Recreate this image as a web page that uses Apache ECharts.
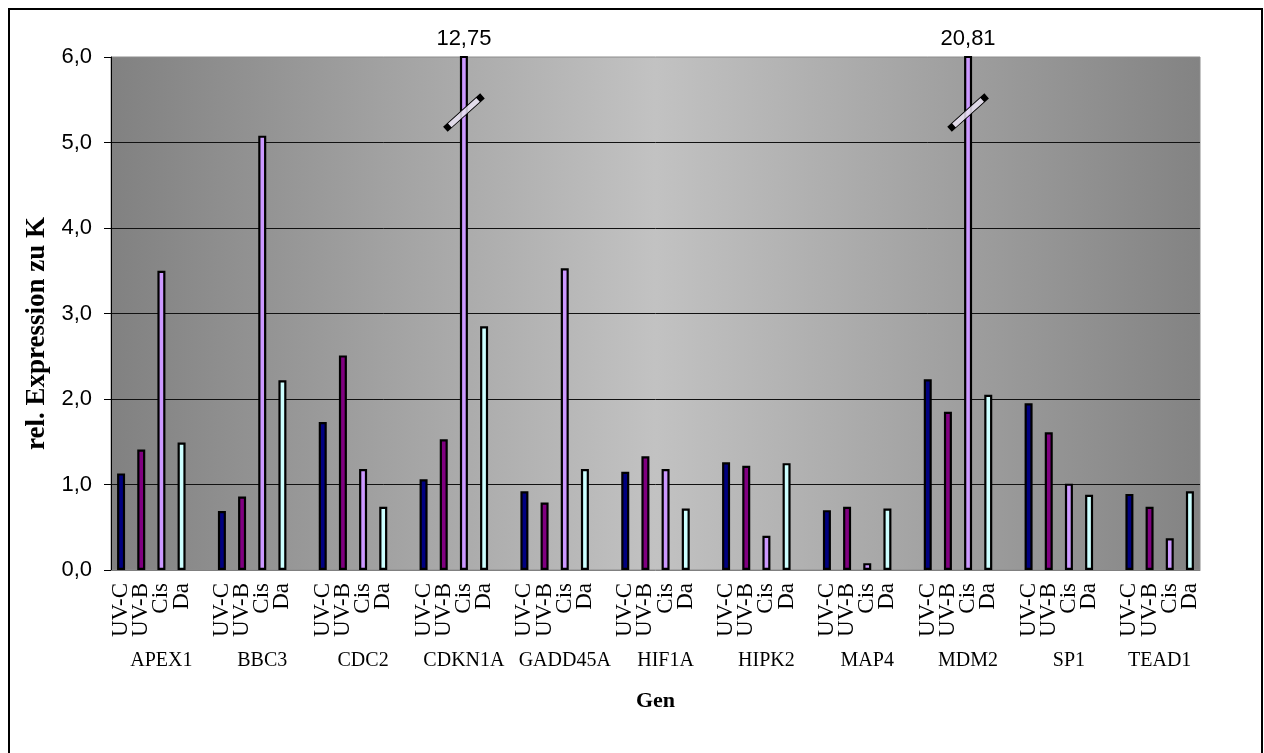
<!DOCTYPE html>
<html>
<head>
<meta charset="utf-8">
<script src="https://cdn.jsdelivr.net/npm/echarts@6/dist/echarts.min.js"></script>
<style>
  html, body { margin: 0; padding: 0; background: #ffffff; }
  #chart { width: 1264px; height: 753px; }
</style>
</head>
<body>
<div id="chart"></div>
<script>
// Relative expression (vs. control K) per gene and treatment
const genes = ['APEX1', 'BBC3', 'CDC2', 'CDKN1A', 'GADD45A', 'HIF1A', 'HIPK2', 'MAP4', 'MDM2', 'SP1', 'TEAD1'];
const treatments = ['UV-C', 'UV-B', 'Cis', 'Da'];
const uvC = [1.13, 0.69, 1.73, 1.06, 0.92, 1.15, 1.26, 0.70, 2.23, 1.95, 0.89];
const uvB = [1.41, 0.86, 2.51, 1.53, 0.79, 1.33, 1.22, 0.74, 1.85, 1.61, 0.74];
const cis = [3.50, 5.08, 1.18, 12.75, 3.53, 1.18, 0.40, 0.08, 20.81, 1.01, 0.37];
const da = [1.49, 2.22, 0.74, 2.85, 1.18, 0.72, 1.25, 0.72, 2.05, 0.88, 0.92];
const yMin = 0;
const yMax = 6;
const yStep = 1;
const breakValue = 5.35;   // where the axis-break mark sits on truncated bars

const valuesByTreatment = [uvC, uvB, cis, da];
const barColors = ['#000080', '#800080', '#cc99ff', '#ccffff'];

const fmtNum = (v, d) => v.toFixed(d).replace('.', ',');

// Slots along the category axis: four treatments per gene, one empty slot between genes
const slots = [];
const groupCenters = [];
genes.forEach((g, gi) => {
  const start = slots.length;
  treatments.forEach(t => slots.push({ gene: gi, t: t, key: g + '|' + t }));
  const hasGap = gi < genes.length - 1;
  if (hasGap) slots.push({ gene: -1, t: '', key: 'gap' + gi });
  const span = treatments.length + (hasGap ? 1 : 0);
  groupCenters.push(start + (span - 1) / 2);
});
const categories = slots.map(s => s.key);

// Secondary axis in half-slot steps, used to centre gene names under their group
const geneAxisData = [];
for (let i = 0; i <= slots.length * 2; i++) geneAxisData.push('p' + i);
const geneLabelAt = {};
groupCenters.forEach((c, gi) => { geneLabelAt['p' + Math.round(2 * c + 1)] = genes[gi]; });

const series = treatments.map((t, ti) => {
  const vals = valuesByTreatment[ti];
  const data = slots.map(s => (s.gene >= 0 && s.t === t) ? vals[s.gene] : '-');
  const s = {
    name: t,
    type: 'bar',
    xAxisIndex: 0,
    data: data,
    barWidth: 8,
    barGap: '-100%',
    clip: true,
    itemStyle: { color: barColors[ti], borderColor: '#000000', borderWidth: 2.2 },
    label: {
      show: true,
      position: 'top',
      distance: 6,
      color: '#000000',
      fontFamily: 'Liberation Sans, Arial, sans-serif',
      fontSize: 22,
      formatter: p => (typeof p.value === 'number' && p.value > yMax) ? fmtNum(p.value, 2) : ''
    },
    emphasis: { disabled: true },
    animation: false
  };
  const breaks = [];
  data.forEach((v, i) => {
    if (typeof v === 'number' && v > yMax) breaks.push({ coord: [i, breakValue] });
  });
  if (breaks.length) {
    s.markPoint = {
      symbol: 'rect',
      symbolSize: [44, 6],
      symbolRotate: 42,
      itemStyle: { color: 'rgba(235,228,245,0.85)', borderColor: '#000000', borderWidth: 2.2 },
      label: { show: false },
      data: breaks,
      animation: false
    };
  }
  return s;
});

const chart = echarts.init(document.getElementById('chart'), null, { renderer: 'canvas' });
chart.setOption({
  backgroundColor: '#ffffff',
  animation: false,
  graphic: [{
    type: 'rect',
    shape: { x: 9, y: 9, width: 1253, height: 800 },
    style: { fill: 'none', stroke: '#000000', lineWidth: 2 },
    silent: true,
    z: 100
  }],
  grid: {
    left: 111, top: 57, right: 64, bottom: 183,
    show: true,
    borderColor: '#8c8c8c',
    borderWidth: 1,
    backgroundColor: new echarts.graphic.LinearGradient(0, 0, 1, 0, [
      { offset: 0, color: '#818181' },
      { offset: 0.5, color: '#c2c2c2' },
      { offset: 1, color: '#838383' }
    ])
  },
  xAxis: [{
    type: 'category',
    data: categories,
    position: 'bottom',
    axisLine: { show: true, lineStyle: { color: '#808080', width: 1 } },
    axisTick: { show: false },
    splitLine: { show: false },
    axisLabel: {
      interval: 0,
      rotate: 90,
      margin: 13,
      color: '#000000',
      fontFamily: 'Liberation Serif, Times New Roman, serif',
      fontSize: 23,
      formatter: v => v.indexOf('|') >= 0 ? v.split('|')[1] : ''
    }
  }, {
    type: 'category',
    data: geneAxisData,
    boundaryGap: false,
    position: 'bottom',
    axisLine: { show: false },
    axisTick: { show: false },
    splitLine: { show: false },
    axisLabel: {
      interval: 0,
      margin: 81,
      color: '#000000',
      fontFamily: 'Liberation Serif, Times New Roman, serif',
      fontSize: 20,
      formatter: v => geneLabelAt[v] || ''
    },
    name: 'Gen',
    nameLocation: 'middle',
    nameGap: 120,
    nameTextStyle: {
      color: '#000000',
      fontFamily: 'Liberation Serif, Times New Roman, serif',
      fontSize: 22,
      fontWeight: 'bold'
    }
  }],
  yAxis: {
    type: 'value',
    min: yMin,
    max: yMax,
    interval: yStep,
    axisLine: { show: true, lineStyle: { color: '#000000', width: 1 } },
    axisTick: { show: true, inside: false, length: 7, lineStyle: { color: '#000000' } },
    splitLine: { show: true, showMinLine: false, showMaxLine: false, lineStyle: { color: '#111111', width: 1 } },
    axisLabel: {
      margin: 19,
      color: '#000000',
      fontFamily: 'Liberation Sans, Arial, sans-serif',
      fontSize: 22,
      formatter: v => fmtNum(v, 1)
    },
    name: 'rel. Expression zu K',
    nameLocation: 'middle',
    nameGap: 46,
    nameTextStyle: {
      color: '#000000',
      fontFamily: 'Liberation Serif, Times New Roman, serif',
      fontSize: 27,
      fontWeight: 'bold',
      padding: [0, 40, 0, 0]
    }
  },
  series: series
});
</script>
</body>
</html>
